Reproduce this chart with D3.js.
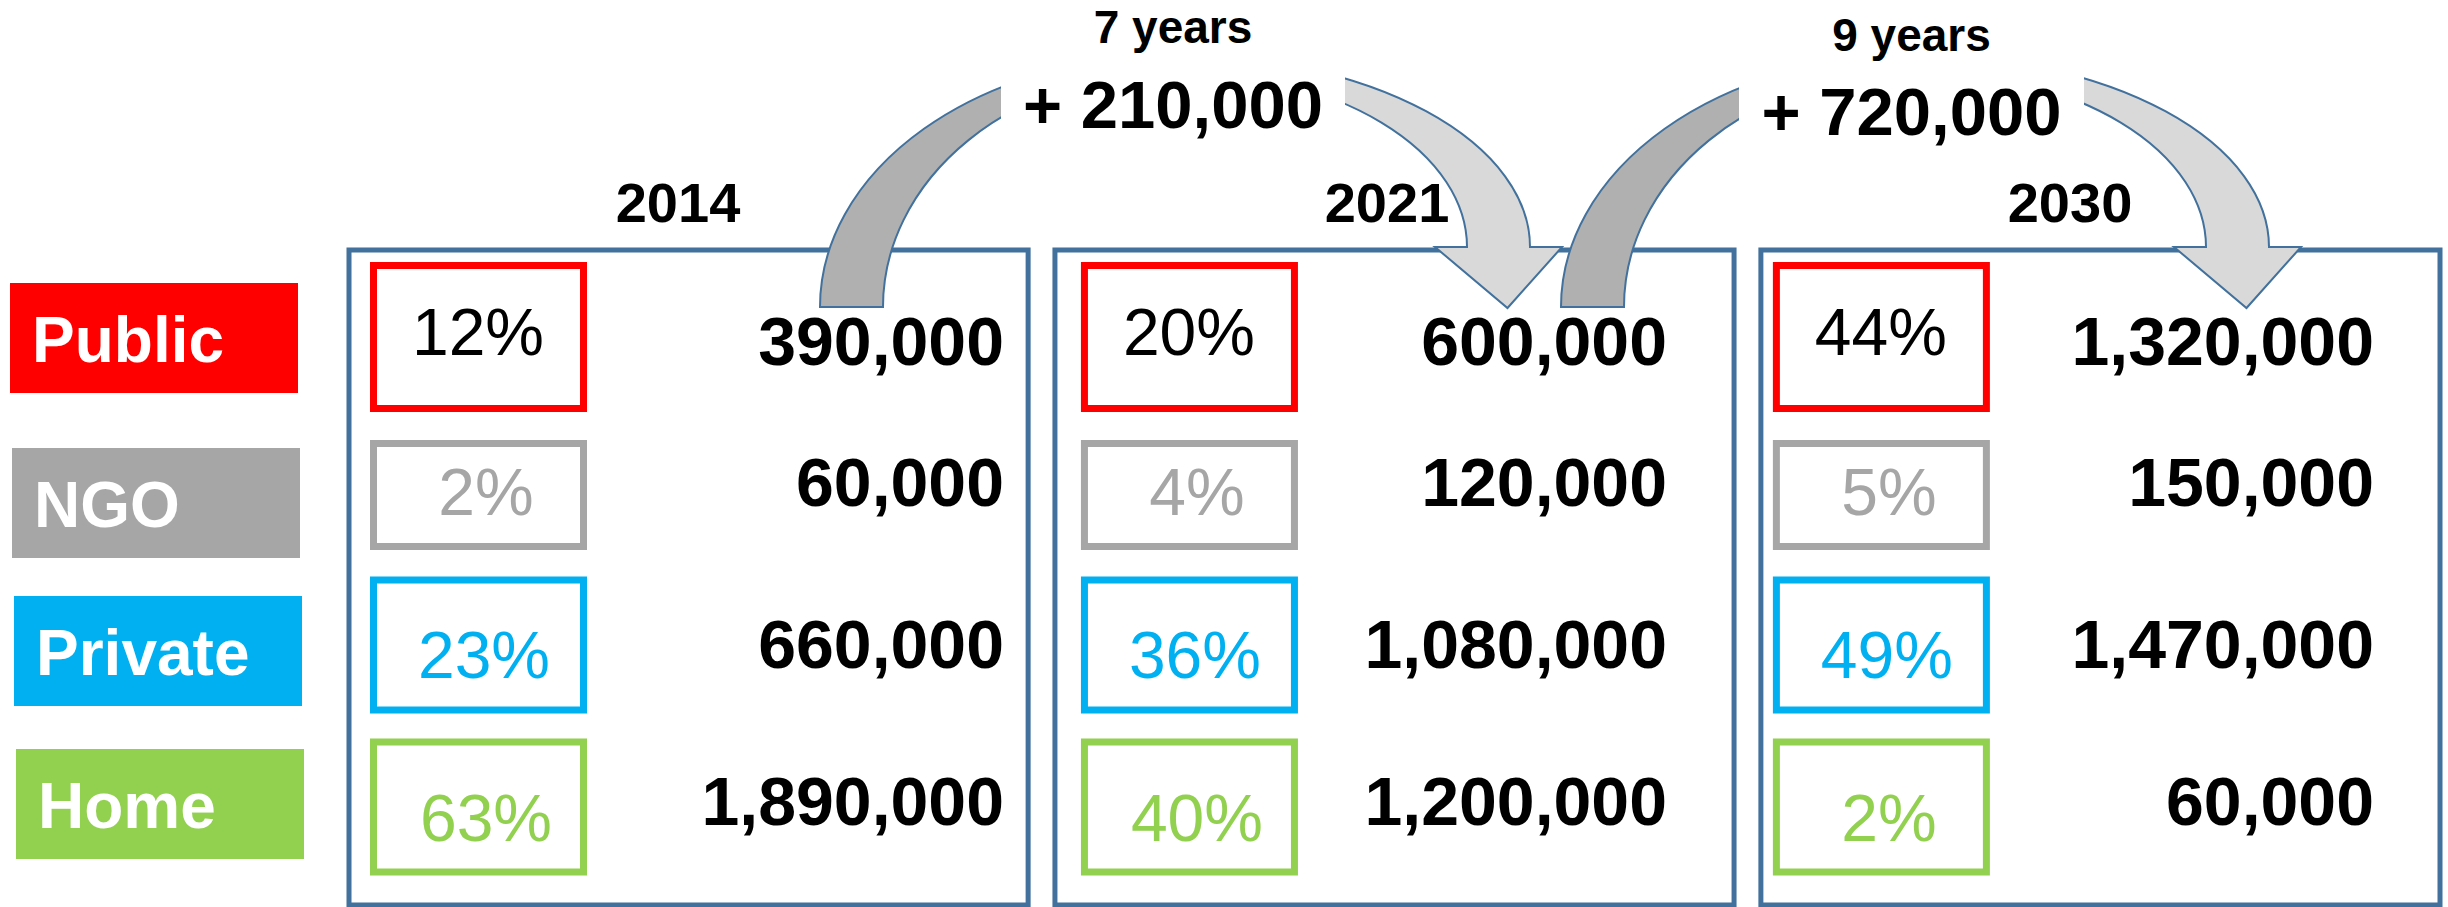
<!DOCTYPE html>
<html>
<head>
<meta charset="utf-8">
<script src="https://cdn.jsdelivr.net/npm/d3@7"></script>
<style>
  html, body { margin: 0; padding: 0; background: #fff; }
  svg { display: block; font-family: "Liberation Sans", Arial, sans-serif; }
</style>
</head>
<body>
<div id="chart"></div>
<script>
// values
const categories = ["Public", "NGO", "Private", "Home"];
const years = ["2014", "2021", "2030"];
const shares2014 = [12, 2, 23, 63];
const shares2021 = [20, 4, 36, 40];
const shares2030 = [44, 5, 49, 2];
const counts2014 = [390000, 60000, 660000, 1890000];
const counts2021 = [600000, 120000, 1080000, 1200000];
const counts2030 = [1320000, 150000, 1470000, 60000];
const growthYears = [7, 9];
const growthCounts = [210000, 720000];

const colors = ["#FF0000", "#A6A6A6", "#00B0F0", "#92D050"];
const pctColors = ["#000000", "#A6A6A6", "#00B0F0", "#92D050"];

let width = 2448,
  height = 907;

let shares = [shares2014, shares2021, shares2030],
  counts = [counts2014, counts2021, counts2030];

// layout (pixels)
let panelX = d3.scaleBand().domain(years).range([349, 2440]).paddingInner(0.038);
let panelTop = 250,
  panelBottom = 905;
let boxOffset = [21, 26, 12]; // pct box left, from panel left
let numRight = [1004, 1667, 2374];
let yearCenter = [678, 1387, 2070];
let labelCenter = [338, 503, 651, 804];
let boxCenter = [337, 495, 645, 807];
let boxHeight = [150, 110, 137, 137];
let pctBaseline = [355, 515, 678, 841];
let numBaseline = [365, 506, 668, 825];
let pctShift = [0, 8, 6, 8];

let fmt = d3.format(",");

let svg = d3
  .select("#chart")
  .append("svg")
  .attr("width", width)
  .attr("height", height);

// category labels on the left
let labels = svg
  .selectAll("g.label")
  .data(categories)
  .enter()
  .append("g")
  .attr("class", "label");

labels
  .append("rect")
  .attr("x", (d, i) => 10 + i * 2)
  .attr("y", (d, i) => labelCenter[i] - 55)
  .attr("width", 288)
  .attr("height", 110)
  .attr("fill", (d, i) => colors[i]);

labels
  .append("text")
  .attr("x", (d, i) => 32 + i * 2)
  .attr("y", (d, i) => labelCenter[i] + 24)
  .attr("fill", "#fff")
  .attr("font-weight", "bold")
  .attr("font-size", 64)
  .text((d) => d);

// one panel per year
let panels = svg
  .selectAll("g.panel")
  .data(years)
  .enter()
  .append("g")
  .attr("class", "panel");

panels
  .append("rect")
  .attr("x", (d) => panelX(d))
  .attr("y", panelTop)
  .attr("width", panelX.bandwidth())
  .attr("height", panelBottom - panelTop)
  .attr("fill", "none")
  .attr("stroke", "#41719C")
  .attr("stroke-width", 5);

panels
  .append("text")
  .attr("x", (d, j) => yearCenter[j])
  .attr("y", 222)
  .attr("text-anchor", "middle")
  .attr("font-weight", "bold")
  .attr("font-size", 56)
  .text((d) => d);

panels.each(function (year, j) {
  let g = d3.select(this);
  let bx = panelX(year) + boxOffset[j];
  let rows = g
    .selectAll("g.row")
    .data(categories)
    .enter()
    .append("g")
    .attr("class", "row");

  rows
    .append("rect")
    .attr("x", bx + 3.5)
    .attr("y", (d, i) => boxCenter[i] - boxHeight[i] / 2 + 3.5)
    .attr("width", 217 - 7)
    .attr("height", (d, i) => boxHeight[i] - 7)
    .attr("fill", "#fff")
    .attr("stroke", (d, i) => colors[i])
    .attr("stroke-width", 7);

  rows
    .append("text")
    .attr("x", (d, i) => bx + 108 + pctShift[i])
    .attr("y", (d, i) => pctBaseline[i])
    .attr("text-anchor", "middle")
    .attr("font-size", 66)
    .attr("fill", (d, i) => pctColors[i])
    .text((d, i) => shares[j][i] + "%");

  rows
    .append("text")
    .attr("x", numRight[j])
    .attr("y", (d, i) => numBaseline[i])
    .attr("text-anchor", "end")
    .attr("font-weight", "bold")
    .attr("font-size", 68)
    .text((d, i) => fmt(counts[j][i]));
});

// curved growth arrows between the panels
let arrows = [
  { x0: 820, x1: 1530, cut: [1001, 1345] },
  { x0: 1561, x1: 2269, cut: [1739, 2084] }
];
let shaft = 63,
  footY = 307,
  topOuter = 55,
  topInner = 71,
  headY = 247,
  tipY = 308,
  wing = 32;

arrows.forEach(function (a, k) {
  let cx = (a.x0 + a.x1) / 2;
  let xi0 = a.x0 + shaft,
    xi1 = a.x1 - shaft;

  let left =
    `M${a.x0},${footY}` +
    `A${cx - a.x0},${footY - topOuter} 0 0 1 ${cx},${topOuter}` +
    `L${cx},${topInner}` +
    `A${cx - xi0},${footY - topInner} 0 0 0 ${xi0},${footY}Z`;

  let tipX = (a.x1 + xi1) / 2 + 9;
  let right =
    `M${cx},${topOuter}` +
    `A${a.x1 - cx},${headY - topOuter} 0 0 1 ${a.x1},${headY}` +
    `L${a.x1 + wing},${headY}L${tipX},${tipY}L${xi1 - wing},${headY}L${xi1},${headY}` +
    `A${xi1 - cx},${headY - topInner} 0 0 0 ${cx},${topInner}Z`;

  svg
    .append("path")
    .attr("d", left)
    .attr("fill", "#B0B0B0")
    .attr("stroke", "#41719C")
    .attr("stroke-width", 2);

  svg
    .append("path")
    .attr("d", right)
    .attr("fill", "#D9D9D9")
    .attr("stroke", "#41719C")
    .attr("stroke-width", 2);

  // white text box sits on top of the arch
  svg
    .append("rect")
    .attr("x", a.cut[0])
    .attr("y", 0)
    .attr("width", a.cut[1] - a.cut[0])
    .attr("height", 145)
    .attr("fill", "#fff");

  let mid = (a.cut[0] + a.cut[1]) / 2;
  svg
    .append("text")
    .attr("x", mid)
    .attr("y", 43 + k * 8)
    .attr("text-anchor", "middle")
    .attr("font-weight", "bold")
    .attr("font-size", 46)
    .text(growthYears[k] + " years");

  svg
    .append("text")
    .attr("x", mid)
    .attr("y", 128 + k * 7)
    .attr("text-anchor", "middle")
    .attr("font-weight", "bold")
    .attr("font-size", 67)
    .text("+ " + fmt(growthCounts[k]));
});
</script>
</body>
</html>
